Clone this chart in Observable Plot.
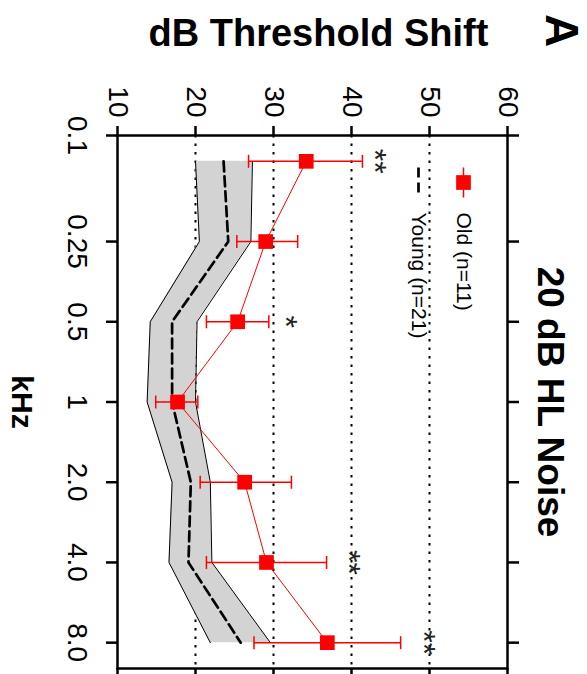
<!DOCTYPE html>
<html><head><meta charset="utf-8">
<script src="https://cdn.jsdelivr.net/npm/d3@7"></script>
<script src="https://cdn.jsdelivr.net/npm/@observablehq/plot@0.6"></script>
<style>html,body{margin:0;padding:0;background:#fff} svg{display:block}</style>
</head><body><div id="chart"></div>
<script>
// Frequencies (kHz) at which data are plotted; lowest point sits at 0.125 on the log axis
const freqs = [0.125, 0.25, 0.5, 1, 2, 4, 8];
const freqTicks = [0.1, 0.25, 0.5, 1, 2, 4, 8];
const freqTickLabels = ["0.1", "0.25", "0.5", "1", "2.0", "4.0", "8.0"];
const dbTicks = [10, 20, 30, 40, 50, 60];
const gridDb = [20, 30, 40, 50];

// Young (n=21): mean and shaded band
const youngMean = [23.6, 24.2, 17.0, 17.0, 19.4, 19.1, 25.8];
const youngLow  = [20.0, 20.5, 14.2, 13.8, 17.0, 16.6, 21.9];
const youngHigh = [27.3, 27.1, 20.2, 20.0, 21.9, 22.1, 29.6];

// Old (n=11): mean with error bars
const oldMean = [34.2, 29.0, 25.4, 17.7, 26.3, 29.1, 36.9];
const oldLow  = [26.8, 25.3, 21.4, 14.9, 20.6, 21.4, 27.5];
const oldHigh = [41.4, 33.1, 29.4, 20.3, 32.3, 36.8, 46.3];

// Significance markers
const sigLabels = ["**", "", "*", "", "", "**", "**"];
const sigPos    = [43.8, null, 32.4, null, null, 40.5, 50.1];

const legendLabels = ["Old (n=11)", "Young (n=21)"];

const young = freqs.map((f, i) => ({f, mean: youngMean[i], lo: youngLow[i], hi: youngHigh[i]}));
const old = freqs.map((f, i) => ({f, mean: oldMean[i], lo: oldLow[i], hi: oldHigh[i]}));
const sig = freqs.map((f, i) => ({f, label: sigLabels[i], x: sigPos[i]})).filter(d => d.label);

const vline = (h) => ({draw(ctx) { ctx.moveTo(0, -h); ctx.lineTo(0, h); }});

const RED = "#ff0000";
const font = "'Liberation Sans', Arial, Helvetica, sans-serif";

const chart = Plot.plot({
  width: 587,
  height: 674,
  marginLeft: 117,
  marginRight: 80,
  marginTop: 135,
  marginBottom: 6,
  x: {type: "linear", domain: [10, 60]},
  y: {type: "log", domain: [0.1, 10], reverse: true},
  style: {fontFamily: font, background: "white", color: "black"},
  marks: [
    Plot.ruleX(gridDb, {stroke: "black", strokeWidth: 2, strokeDasharray: "2.5,6"}),
    Plot.areaX(young, {y: "f", x1: "lo", x2: "hi", fill: "#d3d3d3"}),
    Plot.lineX(young, {y: "f", x: "lo", stroke: "black", strokeWidth: 1}),
    Plot.lineX(young, {y: "f", x: "hi", stroke: "black", strokeWidth: 1}),
    Plot.lineX(young, {y: "f", x: "mean", stroke: "black", strokeWidth: 2.7, strokeDasharray: "10,5"}),
    Plot.lineX(old, {y: "f", x: "mean", stroke: RED, strokeWidth: 1}),
    Plot.ruleY(old, {y: "f", x1: "lo", x2: "hi", stroke: RED, strokeWidth: 1.5}),
    Plot.dot(old, {y: "f", x: "lo", symbol: vline(6.5), stroke: RED, fill: "none", strokeWidth: 1.5}),
    Plot.dot(old, {y: "f", x: "hi", symbol: vline(6.5), stroke: RED, fill: "none", strokeWidth: 1.5}),
    Plot.dot(old, {y: "f", x: "mean", symbol: "square", r: 8.3, fill: RED, stroke: "none"}),
    Plot.text(sig, {x: "x", y: "f", text: "label", rotate: 90, fontSize: 32, dx: -7, textAnchor: "middle", lineAnchor: "middle", fill: "#222"}),
    // frame & axes
    Plot.frame({stroke: "black", strokeWidth: 2.5}),
    Plot.axisX({anchor: "top", ticks: dbTicks, tickSize: 10, strokeWidth: 2.5, fill: "none", label: null}),
    Plot.axisX({anchor: "bottom", ticks: dbTicks, tickSize: 10, strokeWidth: 2.5, fill: "none", label: null}),
    Plot.axisY({anchor: "left", ticks: freqTicks, tickSize: 11, strokeWidth: 2.5, fill: "none", label: null}),
    Plot.axisY({anchor: "right", ticks: freqTicks, tickSize: 11, strokeWidth: 2.5, fill: "none", label: null}),
    // tick labels
    Plot.text(dbTicks, {x: d => d, frameAnchor: "top", text: d => String(d), rotate: 90, textAnchor: "end", lineAnchor: "middle", dy: -18, fontSize: 28}),
    Plot.text(freqTicks, {y: d => d, frameAnchor: "left", text: (d, i) => freqTickLabels[i], rotate: 90, textAnchor: "middle", lineAnchor: "middle", dx: -41, fontSize: 28}),
    // titles
    Plot.text(["kHz"], {frameAnchor: "left", text: d => d, rotate: 90, dx: -96, fontWeight: "bold", fontSize: 30, textAnchor: "middle", lineAnchor: "middle"}),
    Plot.text(["dB Threshold Shift"], {frameAnchor: "top", text: d => d, dy: -102, dx: 6, fontWeight: "bold", fontSize: 38, textAnchor: "middle", lineAnchor: "middle"}),
    Plot.text(["20 dB HL Noise"], {frameAnchor: "right", text: d => d, rotate: 90, dx: 42, fontWeight: "bold", fontSize: 37, textAnchor: "middle", lineAnchor: "middle"}),
    Plot.text(["A"], {frameAnchor: "top-right", text: d => d, rotate: 90, dx: 53, dy: -105, fontWeight: "bold", fontSize: 46, textAnchor: "middle", lineAnchor: "middle"}),
    // legend
    Plot.dot([0], {frameAnchor: "top-right", dx: -44, dy: 47, symbol: vline(15), stroke: RED, fill: "none", strokeWidth: 1.5}),
    Plot.dot([0], {frameAnchor: "top-right", dx: -44, dy: 47, symbol: "square", r: 8.3, fill: RED, stroke: "none"}),
    Plot.dot([0], {frameAnchor: "top-right", dx: -89, dy: 47, symbol: vline(15), stroke: "black", fill: "none", strokeWidth: 2.7, strokeDasharray: "10,5"}),
    Plot.text([legendLabels[0]], {frameAnchor: "top-right", text: d => d, rotate: 90, dx: -44, dy: 77, textAnchor: "start", lineAnchor: "middle", fontSize: 21}),
    Plot.text([legendLabels[1]], {frameAnchor: "top-right", text: d => d, rotate: 90, dx: -89, dy: 77, textAnchor: "start", lineAnchor: "middle", fontSize: 21})
  ]
});
document.getElementById("chart").appendChild(chart);
</script>
</body></html>
